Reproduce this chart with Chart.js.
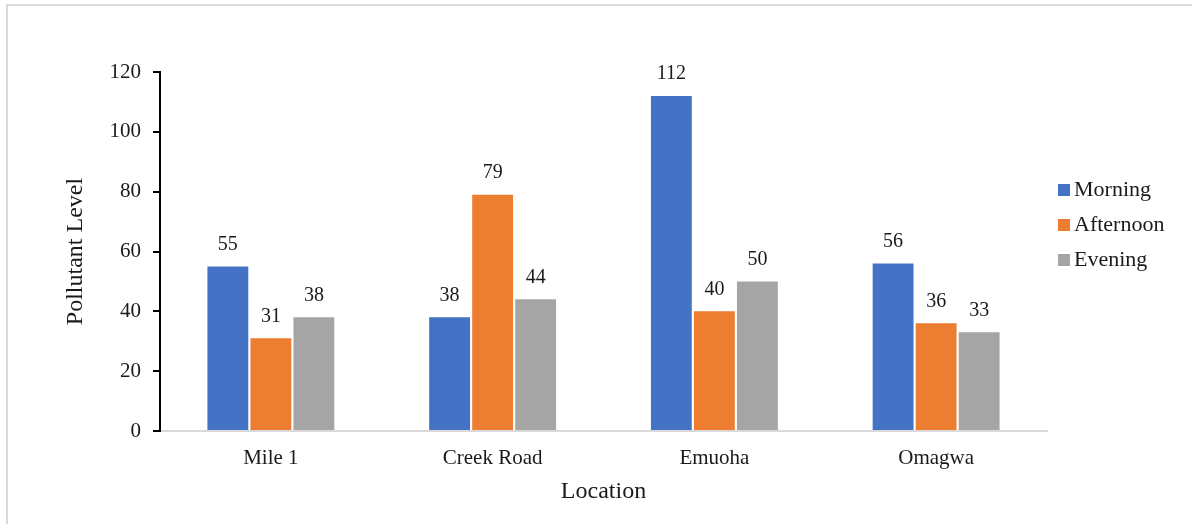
<!DOCTYPE html>
<html>
<head>
<meta charset="utf-8">
<script src="https://cdn.jsdelivr.net/npm/chart.js@4.4.1/dist/chart.umd.min.js"></script>
<style>
  html, body { margin: 0; padding: 0; background: #fff; overflow: hidden; }
  #wrap { position: relative; width: 1192px; height: 524px; }
  #frame { position: absolute; left: 6px; top: 4px; width: 2000px; height: 2000px;
           border: 2px solid #d9d9d9; pointer-events: none; }
</style>
</head>
<body>
<div id="wrap">
  <canvas id="bar-chart"></canvas>
  <div id="frame"></div>
</div>
<script>
// pollutant readings per location and time of day
const locations = ['Mile 1', 'Creek Road', 'Emuoha', 'Omagwa'];
const morning = [55, 38, 112, 56];
const afternoon = [31, 79, 40, 36];
const evening = [38, 44, 50, 33];
const seriesNames = ['Morning', 'Afternoon', 'Evening'];
const seriesColors = ['#4472C4', '#ED7D31', '#A5A5A5'];

const serif = "'Liberation Serif', 'Times New Roman', serif";
Chart.defaults.font.family = serif;
Chart.defaults.color = '#1a1a1a';

// value printed above each bar
const valueLabels = {
    id: 'valueLabels',
    afterDatasetsDraw(chart) {
        const ctx = chart.ctx;
        ctx.save();
        ctx.font = '20px ' + serif;
        ctx.fillStyle = '#1a1a1a';
        ctx.textAlign = 'center';
        ctx.textBaseline = 'middle';
        chart.data.datasets.forEach((ds, i) => {
            chart.getDatasetMeta(i).data.forEach((bar, j) => {
                ctx.fillText(ds.data[j], bar.x, bar.y - 22);
            });
        });
        ctx.restore();
    }
};

// legend stacked to the right of the plot
const sideLegend = {
    id: 'sideLegend',
    afterDraw(chart) {
        const ctx = chart.ctx;
        const x = chart.chartArea.right + 11;
        const y0 = 190;
        ctx.save();
        ctx.font = '22px ' + serif;
        ctx.textBaseline = 'middle';
        ctx.textAlign = 'left';
        chart.data.datasets.forEach((ds, i) => {
            const y = y0 + i * 35;
            ctx.fillStyle = ds.backgroundColor;
            ctx.fillRect(x, y - 6, 12, 12);
            ctx.fillStyle = '#1a1a1a';
            ctx.fillText(ds.label, x + 16, y);
        });
        ctx.restore();
    }
};

const ctx = document.getElementById('bar-chart').getContext('2d');
new Chart(ctx, {
    type: 'bar',
    data: {
        labels: locations,
        datasets: [morning, afternoon, evening].map((values, i) => ({
            label: seriesNames[i],
            data: values,
            backgroundColor: seriesColors[i],
            categoryPercentage: 0.582,
            barPercentage: 0.95
        }))
    },
    options: {
        responsive: true,
        maintainAspectRatio: false,
        animation: false,
        layout: { padding: { left: 0, top: 72, right: 145, bottom: 0 } },
        plugins: {
            legend: { display: false },
            tooltip: { enabled: false }
        },
        scales: {
            x: {
                grid: { drawOnChartArea: false, drawTicks: false },
                border: { color: '#d9d9d9', width: 2 },
                ticks: { font: { size: 21 }, padding: 15, color: '#1a1a1a' },
                title: {
                    display: true,
                    text: 'Location',
                    font: { size: 24 },
                    padding: { bottom: 18 },
                    color: '#1a1a1a'
                },
                afterFit(scale) { scale.height = 93; }
            },
            y: {
                min: 0,
                max: 120,
                grid: { drawOnChartArea: false, drawTicks: true, tickLength: 7, color: '#000', lineWidth: 2 },
                border: { color: '#000', width: 2 },
                ticks: { stepSize: 20, font: { size: 21 }, padding: 12, color: '#1a1a1a' },
                title: {
                    display: true,
                    text: 'Pollutant Level',
                    font: { size: 24 },
                    padding: { top: 61 },
                    color: '#1a1a1a'
                },
                afterFit(scale) { scale.width = 160; }
            }
        }
    },
    plugins: [valueLabels, sideLegend]
});
</script>
</body>
</html>
